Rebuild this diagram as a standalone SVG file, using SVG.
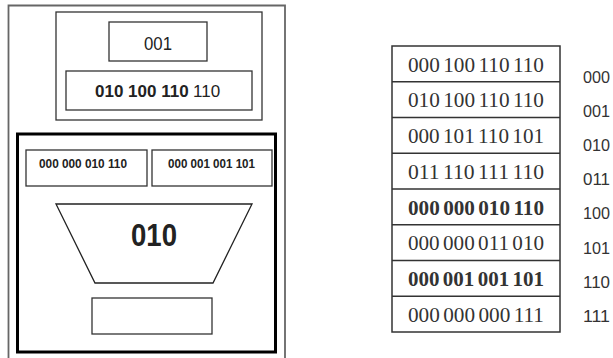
<svg xmlns="http://www.w3.org/2000/svg" width="613" height="358" viewBox="0 0 613 358">
<style>
.box{fill:#fff;stroke:#333;stroke-width:1.3}
.sans{font-family:"Liberation Sans",Arial,sans-serif;fill:#222}
.serif{font-family:"Liberation Serif","Times New Roman",serif;fill:#333;font-size:22px;word-spacing:-2px}
.lbl{font-family:"Liberation Sans",Arial,sans-serif;fill:#333;font-size:17px}
.cell{fill:#fff;stroke:#333;stroke-width:1.5}
</style>
<rect width="613" height="358" fill="#fff"/>
<g id="outer">
<path d="M8.5,360 V5.5 H285 V360" fill="none" stroke="#666" stroke-width="1.8"/>
</g>
<g id="top-group">
<rect class="box" x="56" y="12" width="206" height="108"/>
</g>
<g id="node-001">
<rect class="box" x="109" y="22" width="98" height="39"/>
<text class="sans" x="158" y="50" font-size="19" text-anchor="middle" textLength="28" lengthAdjust="spacingAndGlyphs">001</text>
</g>
<g id="node-key">
<rect class="box" x="66" y="71" width="186" height="39"/>
<text class="sans" x="95" y="97" font-size="17" font-weight="bold">010 100 110</text>
<text class="sans" x="193" y="97" font-size="17">110</text>
</g>
<g id="bucket">
<rect x="17.5" y="134" width="258" height="218" fill="#fff" stroke="#000" stroke-width="3"/>
</g>
<g id="node-left">
<rect class="box" x="26" y="150" width="121" height="36"/>
<text class="sans" x="39" y="168" font-size="12" font-weight="bold" textLength="88" lengthAdjust="spacingAndGlyphs">000 000 010 110</text>
</g>
<g id="node-right">
<rect class="box" x="152" y="150" width="120" height="36"/>
<text class="sans" x="168" y="168" font-size="12" font-weight="bold" textLength="87" lengthAdjust="spacingAndGlyphs">000 001 001 101</text>
</g>
<g id="node-funnel">
<polygon points="56,204 252,204 213,283 95,283" fill="#fff" stroke="#222" stroke-width="1.3"/>
<text class="sans" x="154" y="246" font-size="32" font-weight="bold" fill="#000" text-anchor="middle" textLength="46" lengthAdjust="spacingAndGlyphs">010</text>
</g>
<g id="node-empty">
<rect class="box" x="92" y="298" width="120" height="36"/>
</g>
<g id="table">
<rect class="cell" x="392" y="46" width="168" height="286"/>
<path d="M392,81.75 H560 M392,117.5 H560 M392,153.25 H560 M392,189 H560 M392,224.75 H560 M392,260.5 H560 M392,296.25 H560" stroke="#333" stroke-width="1.5"/>
<g text-anchor="middle">
<text class="serif" x="476" y="71.5" textLength="136" lengthAdjust="spacingAndGlyphs">000 100 110 110</text>
<text class="serif" x="476" y="107.25" textLength="136" lengthAdjust="spacingAndGlyphs">010 100 110 110</text>
<text class="serif" x="476" y="143" textLength="136" lengthAdjust="spacingAndGlyphs">000 101 110 101</text>
<text class="serif" x="476" y="178.75" textLength="136" lengthAdjust="spacingAndGlyphs">011 110 111 110</text>
<text class="serif" x="476" y="214.5" font-weight="bold" fill="#111" textLength="136" lengthAdjust="spacingAndGlyphs">000 000 010 110</text>
<text class="serif" x="476" y="250.25" fill="#555" textLength="136" lengthAdjust="spacingAndGlyphs">000 000 011 010</text>
<text class="serif" x="476" y="286" font-weight="bold" fill="#111" textLength="136" lengthAdjust="spacingAndGlyphs">000 001 001 101</text>
<text class="serif" x="476" y="321.75" fill="#555" textLength="136" lengthAdjust="spacingAndGlyphs">000 000 000 111</text>
</g>
</g>
<g id="labels">
<text class="lbl" x="583" y="83" textLength="27" lengthAdjust="spacingAndGlyphs">000</text>
<text class="lbl" x="583" y="117" textLength="27" lengthAdjust="spacingAndGlyphs">001</text>
<text class="lbl" x="583" y="151" textLength="27" lengthAdjust="spacingAndGlyphs">010</text>
<text class="lbl" x="583" y="185" textLength="27" lengthAdjust="spacingAndGlyphs">011</text>
<text class="lbl" x="583" y="219" textLength="27" lengthAdjust="spacingAndGlyphs">100</text>
<text class="lbl" x="583" y="253.5" textLength="27" lengthAdjust="spacingAndGlyphs">101</text>
<text class="lbl" x="583" y="287.5" textLength="27" lengthAdjust="spacingAndGlyphs">110</text>
<text class="lbl" x="583" y="321.5" textLength="27" lengthAdjust="spacingAndGlyphs">111</text>
</g>
</svg>
